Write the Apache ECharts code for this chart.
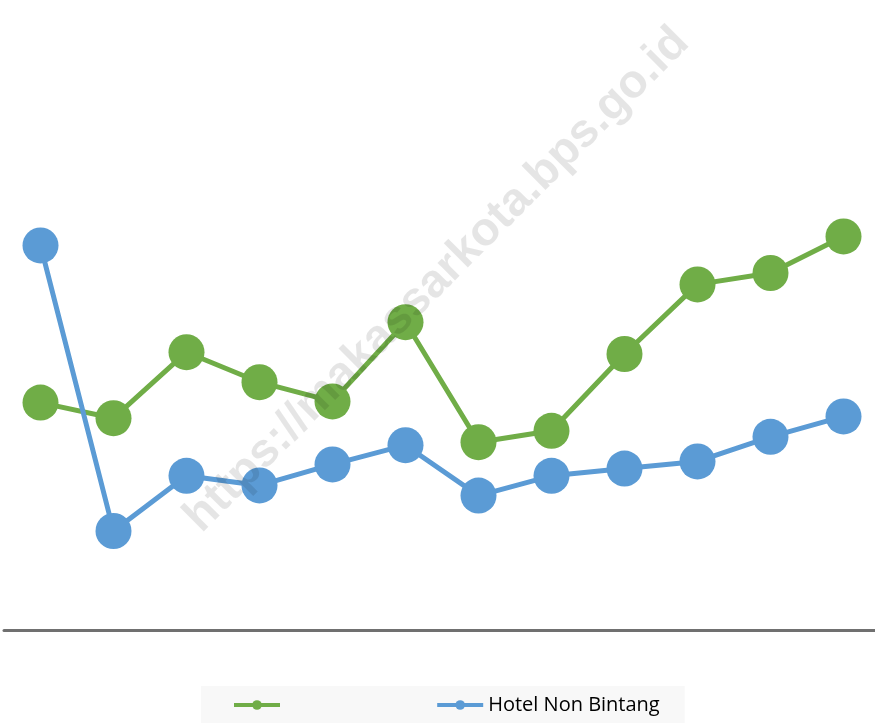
<!DOCTYPE html>
<html>
<head>
<meta charset="utf-8">
<script src="https://cdn.jsdelivr.net/npm/echarts@6/dist/echarts.min.js"></script>
<style>
    html, body { margin: 0; padding: 0; background: #fff; }
    #chart { width: 875px; height: 723px; }
</style>
</head>
<body>
<div id="chart"></div>
<script>
// bulan (label sumbu disembunyikan di gambar asli)
const months = ['Jan', 'Feb', 'Mar', 'Apr', 'Mei', 'Jun', 'Jul', 'Agu', 'Sep', 'Okt', 'Nov', 'Des'];

// seri hijau, tanpa nama di legenda
const greenName = ' ';
const greenValues = [37.9, 35.3, 46.3, 41.3, 38.1, 51.3, 31.3, 33.2, 46.0, 57.6, 59.5, 65.6];

// Hotel Non Bintang
const blueName = 'Hotel Non Bintang';
const blueValues = [64.1, 16.5, 25.7, 24.1, 27.6, 30.8, 22.4, 25.7, 26.9, 28.1, 32.2, 35.6];

const GREEN = '#70AD47';
const BLUE = '#5B9BD5';

const chart = echarts.init(document.getElementById('chart'));

const lineSeries = (name, data, color) => ({
    name: name,
    type: 'line',
    data: data,
    symbol: 'circle',
    symbolSize: 36,
    lineStyle: { color: color, width: 5 },
    itemStyle: { color: color },
    emphasis: { disabled: true },
    z: 2
});

const option = {
    animation: false,
    grid: { left: 4, right: -5, top: 30, bottom: 93, outerBoundsMode: 'none' },
    xAxis: {
        type: 'category',
        data: months,
        boundaryGap: true,
        axisLine: { show: true, lineStyle: { color: '#707070', width: 3 } },
        axisTick: { show: false },
        axisLabel: { show: false },
        splitLine: { show: false }
    },
    yAxis: {
        type: 'value',
        min: 0,
        max: 100,
        show: false,
        splitLine: { show: false }
    },
    legend: {
        left: 201,
        top: 686,
        padding: [9, 25, 9, 31],
        backgroundColor: '#f8f8f8',
        itemWidth: 46,
        itemHeight: 12,
        itemGap: 145,
        lineStyle: { width: 4 },
        itemStyle: { borderWidth: 0 },
        textStyle: { fontFamily: 'Open Sans', fontSize: 20, color: '#000' },
        data: [greenName, blueName]
    },
    graphic: [
        {
            // watermark
            type: 'text',
            x: 437,
            y: 280,
            rotation: Math.PI / 4,
            z: 100,
            silent: true,
            style: {
                text: 'https://makassarkota.bps.go.id',
                font: 'bold 47px "Liberation Sans"',
                fill: 'rgba(0,0,0,0.1)',
                align: 'center',
                verticalAlign: 'middle'
            }
        }
    ],
    series: [
        lineSeries(greenName, greenValues, GREEN),
        lineSeries(blueName, blueValues, BLUE)
    ]
};

chart.setOption(option);
</script>
</body>
</html>
